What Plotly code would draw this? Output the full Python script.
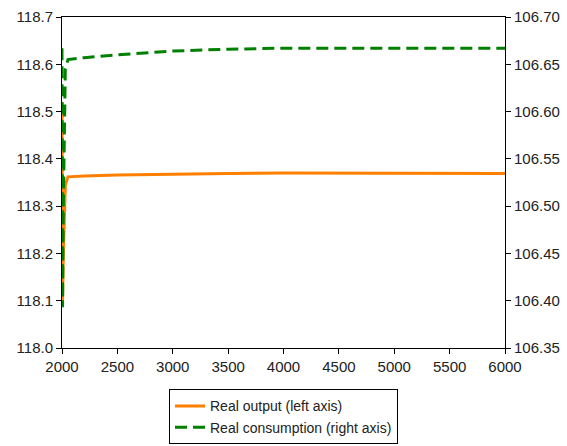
import plotly.graph_objects as go

periods = [2000, 2005, 2012, 2020, 2030, 2054, 2200, 2500, 3000, 3500, 4000, 5000, 6000]
real_output = [118.52, 118.10, 118.20, 118.30, 118.345, 118.362, 118.364, 118.366, 118.368, 118.369, 118.370, 118.370, 118.369]
real_consumption = [106.667, 106.393, 106.50, 106.60, 106.645, 106.655, 106.657, 106.660, 106.664, 106.666, 106.667, 106.667, 106.667]

x_ticks = [2000, 2500, 3000, 3500, 4000, 4500, 5000, 5500, 6000]
left_ticks = [118.0, 118.1, 118.2, 118.3, 118.4, 118.5, 118.6, 118.7]
right_ticks = [106.35, 106.40, 106.45, 106.50, 106.55, 106.60, 106.65, 106.70]

fig = go.Figure()
fig.add_trace(go.Scatter(x=periods, y=real_output, mode="lines",
                         name="Real output (left axis)",
                         line=dict(color="#FF7F00", width=3)))
fig.add_trace(go.Scatter(x=periods, y=real_consumption, mode="lines",
                         name="Real consumption (right axis)", yaxis="y2",
                         line=dict(color="#008000", width=3, dash="12px,6px")))

font = dict(family="Arial, Liberation Sans", size=15, color="#222222")
fig.update_layout(
    width=567, height=446,
    margin=dict(l=62, r=62, t=17, b=98, autoexpand=False),
    plot_bgcolor="white", paper_bgcolor="white",
    font=font,
    showlegend=True,
    legend=dict(orientation="v", x=0.5, xanchor="center", y=-0.125, yanchor="top",
                bordercolor="black", borderwidth=1,
                font=dict(family="Arial, Liberation Sans", size=14, color="#222222"),
                tracegroupgap=0, itemwidth=30, bgcolor="white"),
    xaxis=dict(range=[2000, 6000], tickvals=x_ticks, showgrid=False, zeroline=False,
               showline=True, linecolor="black", linewidth=1, mirror=True,
               ticks="outside", ticklen=5, tickcolor="black"),
    yaxis=dict(range=[118.0, 118.7], tickvals=left_ticks, tickformat=".1f", showgrid=False,
               zeroline=False, showline=True, linecolor="black", linewidth=1,
               ticks="outside", ticklen=5, tickcolor="black"),
    yaxis2=dict(range=[106.35, 106.70], tickvals=right_ticks, tickformat=".2f", overlaying="y",
                side="right", showgrid=False, zeroline=False, showline=True, linecolor="black",
                linewidth=1, ticks="outside", ticklen=5, tickcolor="black"),
)
fig.write_html("out.html")
